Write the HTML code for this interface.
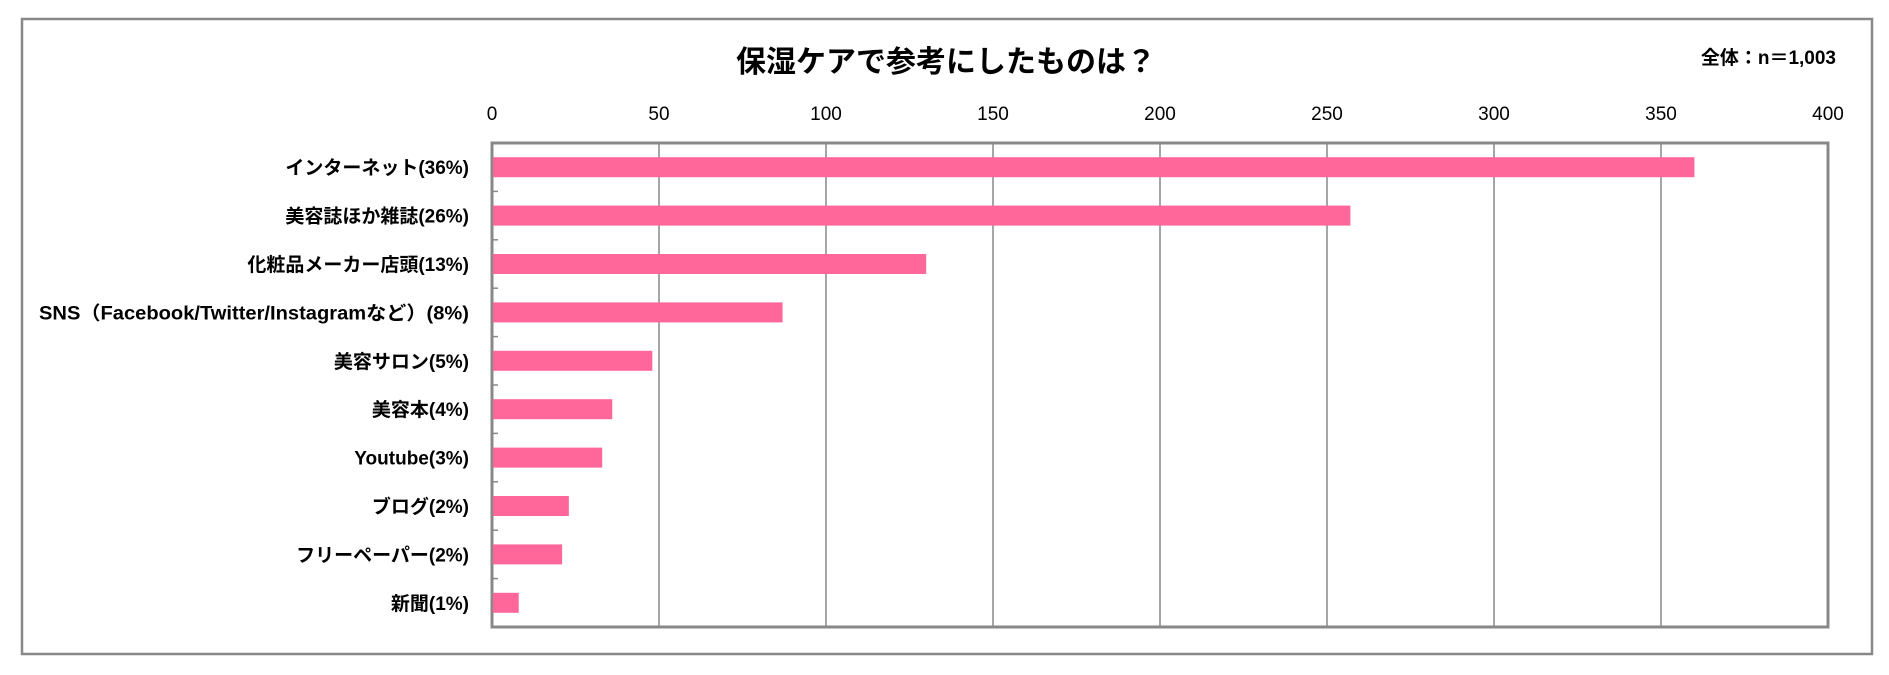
<!DOCTYPE html>
<html><head><meta charset="utf-8"><style>
html,body{margin:0;padding:0;background:#fff;}
svg{display:block;}
text{font-family:"Liberation Sans","Noto Sans CJK JP",sans-serif;}
</style></head><body>
<svg id="chart" width="1889" height="675" viewBox="0 0 1889 675" xmlns="http://www.w3.org/2000/svg">
<rect x="22" y="19" width="1850" height="635" fill="#fff" stroke="#888" stroke-width="2.5"/>
<text x="946" y="72" font-size="30" font-weight="bold" text-anchor="middle" fill="#000">保湿ケアで参考にしたものは？</text>
<text x="1836" y="64" font-size="19" font-weight="bold" text-anchor="end" fill="#000">全体：n＝1,003</text>
<g id="grid"></g>
<g id="bars"></g>
<g id="xlabels"></g>
<g id="ylabels"></g>
</svg>
<script>
const categories = ["インターネット(36%)","美容誌ほか雑誌(26%)","化粧品メーカー店頭(13%)","SNS（Facebook/Twitter/Instagramなど）(8%)","美容サロン(5%)","美容本(4%)","Youtube(3%)","ブログ(2%)","フリーペーパー(2%)","新聞(1%)"];
const values = [360,257,130,87,48,36,33,23,21,8];
const ticks = [0,50,100,150,200,250,300,350,400];

const NS="http://www.w3.org/2000/svg";
const L=492,R=1828,T=143,B=627,MAX=400;
const x=v=>L+(v/MAX)*(R-L);
const band=(B-T)/categories.length;
const y=i=>T+band*i;
function mk(tag,attrs,parent){const e=document.createElementNS(NS,tag);for(const k in attrs)e.setAttribute(k,attrs[k]);parent.appendChild(e);return e;}
const grid=document.getElementById('grid'),bars=document.getElementById('bars'),xl=document.getElementById('xlabels'),yl=document.getElementById('ylabels');
ticks.forEach(t=>{
  if(t>0&&t<MAX){const g=mk('line',{x1:x(t),x2:x(t),y1:T,y2:B,stroke:'#888','stroke-width':1.5},grid);
  
  }
  const tx=mk('text',{x:x(t),y:120,'font-size':19,'text-anchor':'middle',fill:'#000'},xl);
  tx.textContent=t;
  
  
});
const frame=mk('rect',{x:L,y:T,width:R-L,height:B-T,fill:'none',stroke:'#888','stroke-width':3},grid);


for(let i=1;i<categories.length;i++){
  const tk=mk('line',{x1:L,x2:L+6,y1:y(i),y2:y(i),stroke:'#888','stroke-width':1.5},grid);
  
  
}
categories.forEach((c,i)=>{
  const cy=y(i)+band/2;
  const b=mk('rect',{x:L+1,y:cy-10,width:x(values[i])-L-1,height:20,fill:'#ff6699'},bars);
  
  
  const attrs={x:469,y:cy+7,'font-size':19,'font-weight':'bold','text-anchor':'end',fill:'#000'};
  if(i===3){attrs.textLength=430;attrs.lengthAdjust='spacingAndGlyphs';}
  const t=mk('text',attrs,yl);
  t.textContent=c;
  
  
});
</script>
</body></html>
